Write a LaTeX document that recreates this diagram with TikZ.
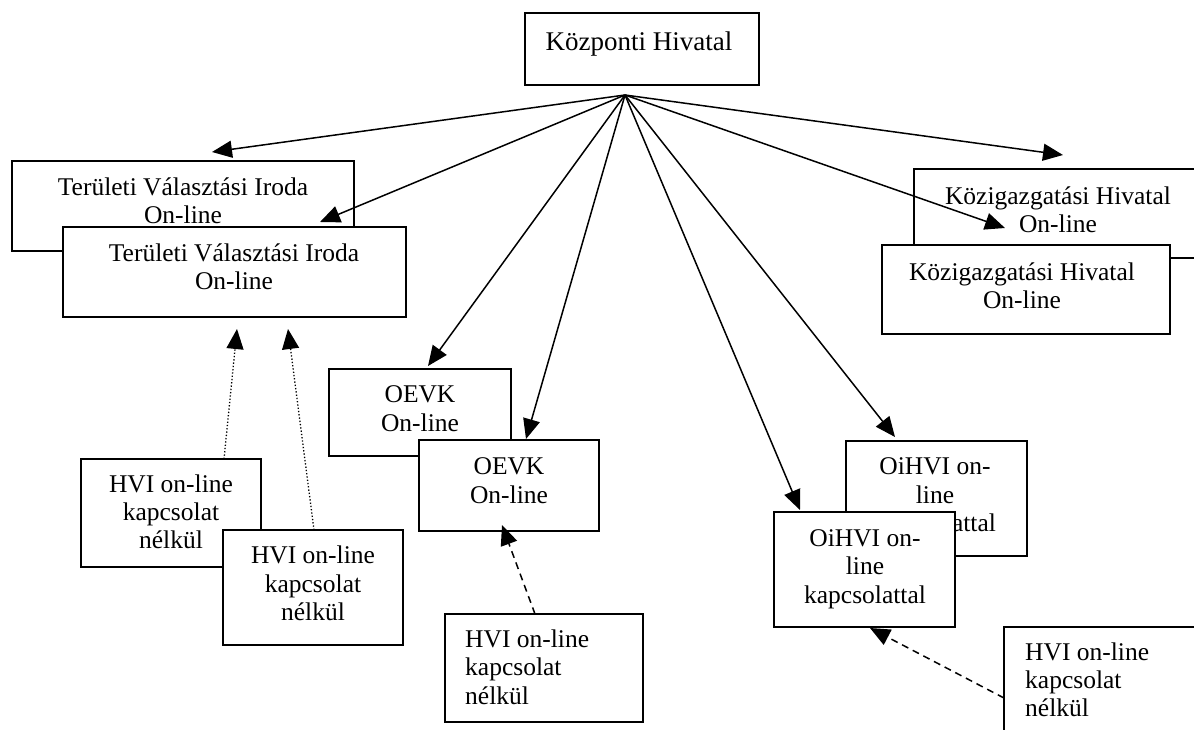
\documentclass[tikz,border=0pt]{standalone}
\usepackage{fontspec}
\setmainfont{Liberation Serif}
\usetikzlibrary{arrows.meta}
\begin{document}
\begin{tikzpicture}[x=1pt,y=-1pt,
  box/.style={draw, line width=1.6pt, fill=white, rectangle, inner sep=0pt, outer sep=0pt, anchor=north west},
  txt/.style={inner sep=0pt, anchor=base, font=\fontsize{25.5}{28.5}\selectfont},
  ltxt/.style={txt, anchor=base west},
  con/.style={line width=1.5pt, -{Triangle[length=20pt,width=17pt]}},
  dotcon/.style={con, line width=1.3pt, dotted},
  dshcon/.style={con, dash pattern=on 7pt off 5pt}]
\useasboundingbox (0,0) rectangle (1194,729);
\clip (0,0) rectangle (1194,729);

% Kozponti Hivatal
\node[box, minimum width=234pt, minimum height=72pt] (kp) at (525,13) {};
\node[txt, font=\fontsize{27}{30}\selectfont] (kpt) at (639,50) {Központi Hivatal};

% Teruleti Valasztasi Iroda
\node[box, minimum width=342pt, minimum height=90pt] (tviA) at (12,161) {};
\node[txt] (tviAt1) at (183,195) {Területi Választási Iroda};
\node[txt] (tviAt2) at (183,223) {On-line};
\node[box, minimum width=343pt, minimum height=90pt] (tviB) at (63,227) {};
\node[txt] (tviBt1) at (234,261) {Területi Választási Iroda};
\node[txt] (tviBt2) at (234,289) {On-line};

% Kozigazgatasi Hivatal
\node[box, minimum width=300pt, minimum height=89pt] (khA) at (914,169) {};
\node[txt] (khAt1) at (1058,204) {Közigazgatási Hivatal};
\node[txt] (khAt2) at (1058,232) {On-line};
\node[box, minimum width=288pt, minimum height=89pt] (khB) at (882,245) {};
\node[txt] (khBt1) at (1022,280) {Közigazgatási Hivatal};
\node[txt] (khBt2) at (1022,308) {On-line};

% OEVK
\node[box, minimum width=182pt, minimum height=87pt] (oeA) at (329,369) {};
\node[txt] (oeAt1) at (420,402) {OEVK};
\node[txt] (oeAt2) at (420,431) {On-line};
\node[box, minimum width=180pt, minimum height=91pt] (oeB) at (419,440) {};
\node[txt] (oeBt1) at (509,474) {OEVK};
\node[txt] (oeBt2) at (509,503) {On-line};

% OiHVI
\node[box, minimum width=181pt, minimum height=115pt] (oiA) at (846,441) {};
\node[txt] (oiAt1) at (935,474) {OiHVI on-};
\node[txt] (oiAt2) at (935,503) {line};
\begin{scope}
\clip (955,505) rectangle (1030,560);
\node[txt] (oiAt3) at (935,531) {kapcsolattal};
\end{scope}
\node[box, minimum width=181pt, minimum height=115pt] (oiB) at (774,512) {};
\node[txt] (oiBt1) at (865,546) {OiHVI on-};
\node[txt] (oiBt2) at (865,574) {line};
\node[txt] (oiBt3) at (865,603) {kapcsolattal};

% HVI boxes left
\node[box, minimum width=180pt, minimum height=108pt] (hvA) at (81,459) {};
\node[txt] (hvAt1) at (171,492) {HVI on-line};
\node[txt] (hvAt2) at (171,520) {kapcsolat};
\node[txt] (hvAt3) at (171,548) {nélkül};
\node[box, minimum width=180pt, minimum height=115pt] (hvB) at (223,530) {};
\node[txt] (hvBt1) at (313,563) {HVI on-line};
\node[txt] (hvBt2) at (313,592) {kapcsolat};
\node[txt] (hvBt3) at (313,620) {nélkül};

% HVI box middle
\node[box, minimum width=198pt, minimum height=108pt] (hvC) at (445,614) {};
\node[ltxt] (hvCt1) at (465,647) {HVI on-line};
\node[ltxt] (hvCt2) at (465,675) {kapcsolat};
\node[ltxt] (hvCt3) at (465,704) {nélkül};

% HVI box right
\node[box, minimum width=220pt, minimum height=140pt] (hvD) at (1004,627) {};
\node[ltxt] (hvDt1) at (1025,660) {HVI on-line};
\node[ltxt] (hvDt2) at (1025,688) {kapcsolat};
\node[ltxt] (hvDt3) at (1025,716) {nélkül};

% connector ends
\coordinate (hub) at (625,95);
\coordinate (tviAe) at (212,152);
\coordinate (tviBe) at (320,222);
\coordinate (oeAe) at (428,366);
\coordinate (oeBe) at (526,439);
\coordinate (oiBe) at (800,510);
\coordinate (oiAe) at (895,437);
\coordinate (khBe) at (1005,228);
\coordinate (khAe) at (1063,155);

\draw[con] (hub) -- (tviAe);
\draw[con] (hub) -- (tviBe);
\draw[con] (hub) -- (oeAe);
\draw[con] (hub) -- (oeBe);
\draw[con] (hub) -- (oiBe);
\draw[con] (hub) -- (oiAe);
\draw[con] (hub) -- (khBe);
\draw[con] (hub) -- (khAe);

\coordinate (hvAs) at (224,459);
\coordinate (hvBs) at (314,530);
\coordinate (tvi1e) at (237,329);
\coordinate (tvi2e) at (288,329);
\draw[dotcon] (hvAs) -- (tvi1e);
\draw[dotcon] (hvBs) -- (tvi2e);

\coordinate (hvCs) at (535,614);
\coordinate (oeBb) at (502,525);
\draw[dshcon] (hvCs) -- (oeBb);
\coordinate (hvDs) at (1004,698);
\coordinate (oiBb) at (870,628);
\draw[dshcon] (hvDs) -- (oiBb);
\end{tikzpicture}
\end{document}
